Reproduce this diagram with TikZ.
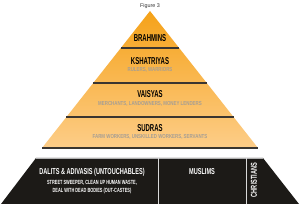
\documentclass[tikz,border=0pt]{standalone}
\usepackage{fontspec}
\setmainfont{Liberation Sans}
\newfontfamily\condA[FakeStretch=0.65]{Liberation Sans}
\newfontfamily\condC[FakeStretch=0.6]{Liberation Sans}
\newfontfamily\condB[FakeStretch=0.76]{Liberation Sans}
\definecolor{orTop}{HTML}{F5A219}
\definecolor{orBot}{HTML}{FDCD88}
\definecolor{blk}{HTML}{1C1A17}
\definecolor{divl}{HTML}{3A3530}
\definecolor{subg}{HTML}{A69E94}
\definecolor{ttl}{HTML}{333333}
\tikzset{
  caste/.style={inner sep=0pt, font=\condC\bfseries\fontsize{10}{11}\selectfont, text=black},
  sub/.style={inner sep=0pt, font=\condB\bfseries\fontsize{5.8}{6}\selectfont, text=subg},
  lowlab/.style={inner sep=0pt, font=\condA\bfseries\fontsize{8.6}{9}\selectfont, text=white},
  lowsub/.style={inner sep=0pt, font=\condA\bfseries\fontsize{6}{6.5}\selectfont, text=white},
  divline/.style={draw=divl, line width=1.4pt},
  wline/.style={draw=white!85!black, line width=0.7pt}
}
\begin{document}
\begin{tikzpicture}[x=1pt,y=1pt]
\useasboundingbox (0,0) rectangle (300,206);
% orange pyramid
\coordinate (apex) at (150,195);
\coordinate (bl) at (42,58);
\coordinate (br) at (258,58);
\shade[top color=orTop, bottom color=orBot] (apex) -- (br) -- (bl) -- cycle;
% divider lines
\draw[divline] (120.8,158) -- (179.2,158);
\draw[divline] (93.2,123) -- (206.8,123);
\draw[divline] (66.4,89) -- (233.6,89);
\draw[divline] (bl) -- (br);
% black base
\coordinate (btl) at (36,48);
\coordinate (btr) at (263,48);
\coordinate (bbr) at (299,2);
\coordinate (bbl) at (1,2);
\fill[blk] (btl) -- (btr) -- (bbr) -- (bbl) -- cycle;
\draw[draw=gray!60, line width=0.5pt] (btl) -- (btr);
\coordinate (d1t) at (158,48);
\coordinate (d1b) at (158,2);
\coordinate (d2t) at (246,48);
\coordinate (d2b) at (246,2);
\draw[wline] (d1t) -- (d1b);
\draw[wline] (d2t) -- (d2b);
% texts
\node[inner sep=0pt, font=\fontsize{5.4}{6}\selectfont, text=ttl] (title) at (150,200) {Figure 3};
\node[caste] (brahmins) at (150,168) {BRAHMINS};
\node[caste] (kshat) at (150,145) {KSHATRIYAS};
\node[sub] (kshatsub) at (150,136) {RULERS, WARRIORS};
\node[caste] (vaisyas) at (150,112) {VAISYAS};
\node[sub] (vaisub) at (150,102) {MERCHANTS, LANDOWNERS, MONEY LENDERS};
\node[caste] (sudras) at (150,78) {SUDRAS};
\node[sub] (sudsub) at (150,69) {FARM WORKERS, UNSKILLED WORKERS, SERVANTS};
\node[lowlab] (dalits) at (92,34) {DALITS \& ADIVASIS (UNTOUCHABLES)};
\node[lowsub] (dal1) at (92,23) {STREET SWEEPER, CLEAN UP HUMAN WASTE,};
\node[lowsub] (dal2) at (92,15) {DEAL WITH DEAD BODIES (OUT-CASTES)};
\node[lowlab] (muslims) at (202,34) {MUSLIMS};
\node[lowlab, rotate=90] (christians) at (254,26) {CHRISTIANS};
\end{tikzpicture}
\end{document}
